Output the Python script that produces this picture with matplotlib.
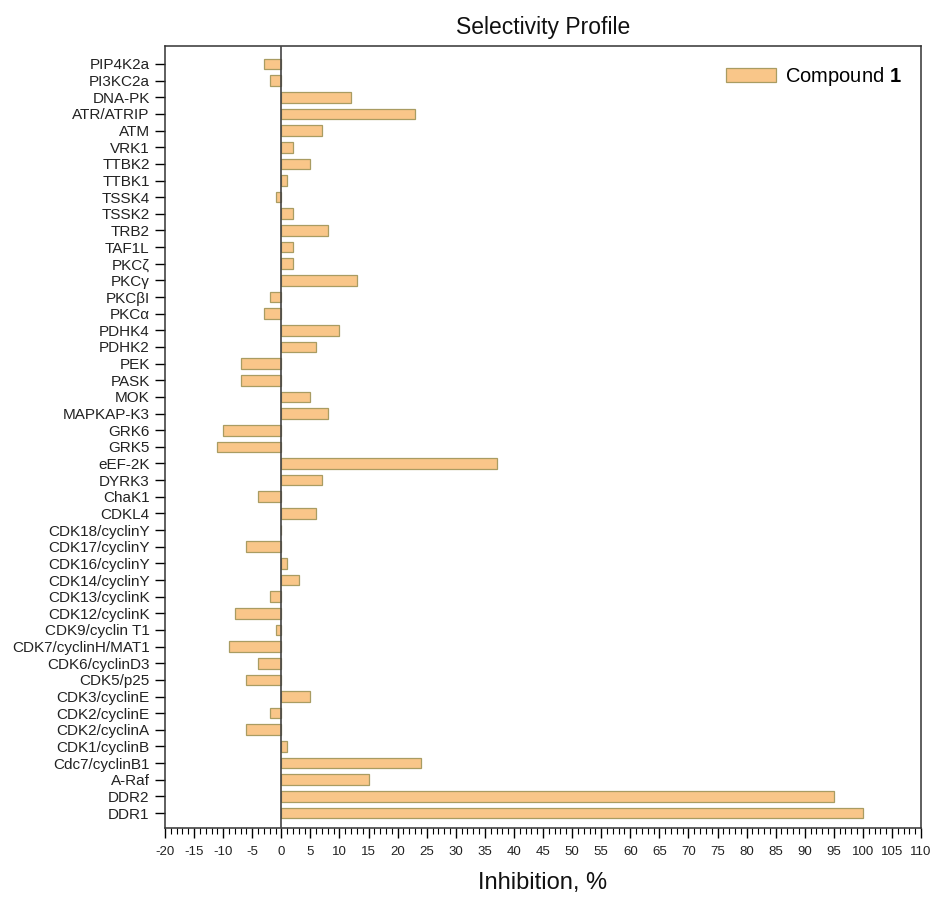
import matplotlib
matplotlib.use("Agg")
import matplotlib.pyplot as plt
from matplotlib.ticker import MultipleLocator
import numpy as np

plt.rcParams['font.family'] = ['Liberation Sans', 'DejaVu Sans']
plt.rcParams['mathtext.fontset'] = 'custom'
plt.rcParams['mathtext.bf'] = 'Liberation Sans:bold'
plt.rcParams['mathtext.rm'] = 'Liberation Sans'

# top-to-bottom order as in the chart
kinases = ["PIP4K2a", "PI3KC2a", "DNA-PK", "ATR/ATRIP", "ATM", "VRK1", "TTBK2", "TTBK1",
           "TSSK4", "TSSK2", "TRB2", "TAF1L", "PKCζ", "PKCγ", "PKCβI", "PKCα", "PDHK4",
           "PDHK2", "PEK", "PASK", "MOK", "MAPKAP-K3", "GRK6", "GRK5", "eEF-2K", "DYRK3",
           "ChaK1", "CDKL4", "CDK18/cyclinY", "CDK17/cyclinY", "CDK16/cyclinY",
           "CDK14/cyclinY", "CDK13/cyclinK", "CDK12/cyclinK", "CDK9/cyclin T1",
           "CDK7/cyclinH/MAT1", "CDK6/cyclinD3", "CDK5/p25", "CDK3/cyclinE",
           "CDK2/cyclinE", "CDK2/cyclinA", "CDK1/cyclinB", "Cdc7/cyclinB1", "A-Raf",
           "DDR2", "DDR1"]
inhibition = [-3, -2, 12, 23, 7, 2, 5, 1,
              -1, 2, 8, 2, 2, 13, -2, -3, 10,
              6, -7, -7, 5, 8, -10, -11, 37, 7,
              -4, 6, 0, -6, 1,
              3, -2, -8, -1,
              -9, -4, -6, 5,
              -2, -6, 1, 24, 15,
              95, 100]
xticks = list(range(-20, 111, 5))

fig = plt.figure(figsize=(9.35, 8.97), dpi=100)
ax = fig.add_axes([0.1765, 0.0769, 0.8086, 0.8718])

n = len(kinases)
ypos = np.arange(n)[::-1]
ax.barh(ypos, inhibition, height=0.64, color='#F9C689', edgecolor='#A99C62',
        linewidth=0.9, label='Compound $\\mathbf{1}$', zorder=2)
ax.axvline(0, color='#444444', lw=1.2, zorder=3)

ax.set_yticks(ypos)
ax.set_yticklabels(kinases, fontsize=11, color='#222222')
ax.set_ylim(-0.9, n - 1 + 1.08)
ax.set_xlim(-20, 110)
ax.set_xticks(xticks)
ax.set_xticklabels([str(t) for t in xticks], fontsize=9.5, color='#222222')
ax.xaxis.set_minor_locator(MultipleLocator(1))
ax.tick_params(axis='x', which='major', length=7, width=1, direction='out', pad=6)
ax.tick_params(axis='x', which='minor', length=4, width=0.8, direction='out')
ax.tick_params(axis='y', length=7, width=1, direction='out', pad=4)
for s in ax.spines.values():
    s.set_color('#333333')
    s.set_linewidth(1.1)

ax.set_title('Selectivity Profile', fontsize=16.5, pad=9, color='#111111')
ax.set_xlabel('Inhibition, %', fontsize=17, labelpad=10, color='#111111')

leg = ax.legend(loc='upper right', frameon=False, fontsize=14.5, handlelength=2.5,
                handleheight=0.65, handletextpad=0.45, borderaxespad=0.55)

fig.savefig('out.png', dpi=100)
